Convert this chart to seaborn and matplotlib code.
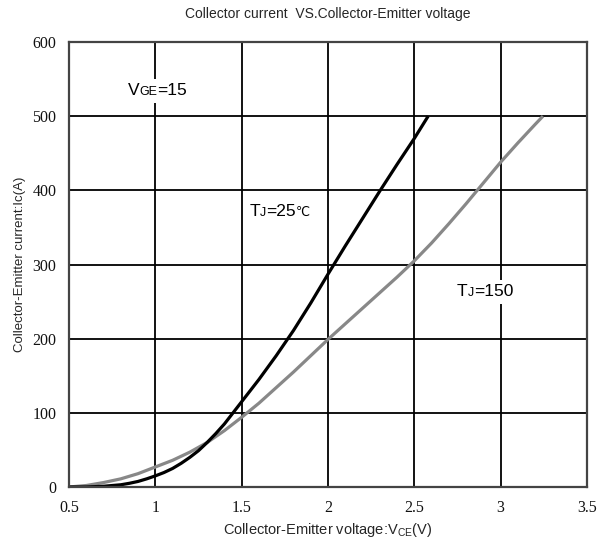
import numpy as np
import pandas as pd
import matplotlib
matplotlib.use("Agg")
import matplotlib.pyplot as plt
import seaborn as sns
from matplotlib.offsetbox import TextArea, HPacker, AnnotationBbox

# ---- data ----
vce_25 = [0.5, 0.6, 0.7, 0.75, 0.8, 0.85, 0.9, 0.95, 1.0, 1.05, 1.1, 1.15, 1.2, 1.25,
          1.3, 1.35, 1.4, 1.45, 1.5, 1.6, 1.7, 1.8, 1.9, 2.0, 2.1, 2.2, 2.3, 2.4,
          2.5, 2.58]
ic_25 = [0, 0, 1, 2, 3, 5, 7.5, 11, 15, 19.5, 25, 32, 40, 49,
         60, 72, 85, 100, 115, 145, 177, 211, 248, 287, 325, 362, 399, 435,
         470, 500]

vce_150 = [0.5, 0.6, 0.7, 0.8, 0.9, 1.0, 1.1, 1.2, 1.3, 1.4, 1.5, 1.6, 1.7, 1.8,
           1.9, 2.0, 2.1, 2.2, 2.3, 2.4, 2.5, 2.6, 2.7, 2.8, 2.9, 3.0, 3.1, 3.2, 3.245]
ic_150 = [0, 2, 6, 11, 18, 27, 36, 47, 60, 76, 94, 113, 134, 155,
          177, 199, 220, 241, 262, 283, 305, 329, 355, 382, 410, 438, 464, 489, 500]

x_ticks = [0.5, 1, 1.5, 2, 2.5, 3, 3.5]
x_tick_labels = ["0.5", "1", "1.5", "2", "2.5", "3", "3.5"]
y_ticks = [0, 100, 200, 300, 400, 500, 600]
y_tick_labels = ["0", "100", "200", "300", "400", "500", "600"]

title = "Collector current  VS.Collector-Emitter voltage"
xlabel = r"Collector-Emitter voltage:V$_{\mathregular{CE}}$(V)"
ylabel = "Collector-Emitter current:Ic(A)"

df25 = pd.DataFrame({"Vce": vce_25, "Ic": ic_25})
df150 = pd.DataFrame({"Vce": vce_150, "Ic": ic_150})

sns.set_style("white")
plt.rcParams["font.family"] = ["Liberation Sans", "DejaVu Sans"]
plt.rcParams["mathtext.fontset"] = "custom"
plt.rcParams["mathtext.rm"] = "Liberation Sans"

fig = plt.figure(figsize=(6.13, 5.44), dpi=100)
ax = fig.add_axes([69 / 613, 1 - 487 / 544, (587 - 69) / 613, (487 - 42) / 544])

sns.lineplot(data=df150, x="Vce", y="Ic", ax=ax, color="#888888", linewidth=2.3,
             estimator=None, sort=False)
sns.lineplot(data=df25, x="Vce", y="Ic", ax=ax, color="black", linewidth=2.3,
             estimator=None, sort=False)
for ln in ax.lines:
    ln.set_solid_joinstyle("round")
    ln.set_solid_capstyle("butt")

ax.set_xlim(0.5, 3.5)
ax.set_ylim(0, 600)
ax.set_xticks(x_ticks)
ax.set_xticklabels(x_tick_labels, family="Liberation Serif", fontsize=11.5)
ax.set_yticks(y_ticks)
ax.set_yticklabels(y_tick_labels, family="Liberation Serif", fontsize=11.5)
ax.tick_params(axis="both", length=0, pad=9, colors="#111111")
ax.grid(True, color="black", linewidth=1.3)
ax.set_axisbelow(True)
for s in ax.spines.values():
    s.set_color("#444444")
    s.set_linewidth(1.6)

ax.set_xlabel(xlabel, fontsize=10.5, labelpad=4)
ax.set_ylabel(ylabel, fontsize=9.5, labelpad=5)
fig.text(328 / 613, 1 - 14 / 544, title, ha="center", va="center", fontsize=10)


def mixed_label(parts, xy):
    children = [TextArea(t, textprops=dict(fontsize=s, color="black",
                                           family=["Liberation Sans", "DejaVu Sans"]))
                for t, s in parts]
    box = HPacker(children=children, align="baseline", pad=0, sep=0)
    ab = AnnotationBbox(box, xy, xycoords="data", frameon=True, pad=0.35,
                        box_alignment=(0.5, 0.5),
                        bboxprops=dict(facecolor="white", edgecolor="none"))
    ab.set_zorder(5)
    ax.add_artist(ab)


mixed_label([("V", 12.5), ("GE", 9), ("=15", 12.5)], (1.01, 534))
mixed_label([("T", 12.5), ("J", 9), ("=25", 12.5), ("℃", 9)], (1.72, 372))
mixed_label([("T", 12.5), ("J", 9), ("=150", 12.5)], (2.91, 263))

fig.savefig("out.png", dpi=100)
